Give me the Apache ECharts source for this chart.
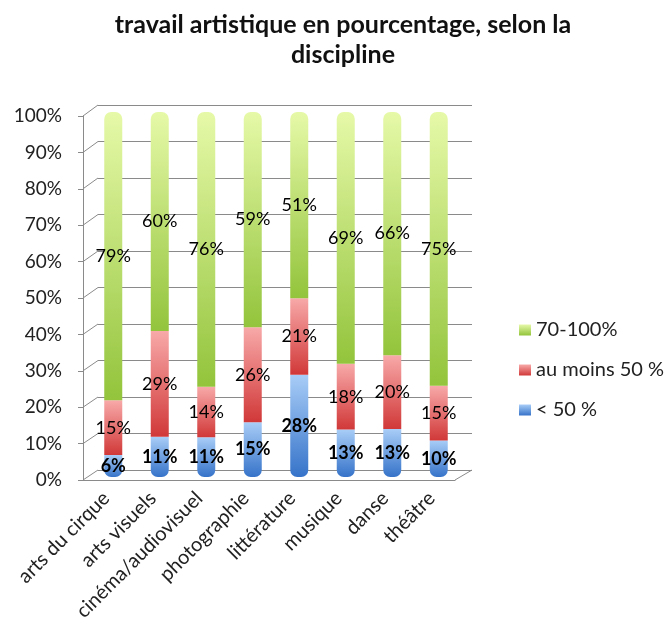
<!DOCTYPE html>
<html>
<head>
<meta charset="utf-8">
<script src="https://cdn.jsdelivr.net/npm/echarts@6/dist/echarts.min.js"></script>
<style>
html, body { margin: 0; background: #fff; }
#chart { width: 666px; height: 638px; }
</style>
</head>
<body>
<div id="chart"></div>
<script>
// données
var categories = ['arts du cirque', 'arts visuels', 'cinéma/audiovisuel', 'photographie', 'littérature', 'musique', 'danse', 'théâtre'];
var below50 = [6, 11, 11, 15, 28, 13, 13, 10];
var atLeast50 = [15, 29, 14, 26, 21, 18, 20, 15];
var from70 = [79, 60, 76, 59, 51, 69, 66, 75];
var seriesNames = ['< 50 %', 'au moins 50 %', '70-100%'];

var FONT = 'Lato';
var GRID_COLOR = '#8a8a8a';

// empilement à 100 % : chaque colonne est ramenée à son total, l'étiquette garde la valeur lue
var totals = categories.map(function (c, i) { return below50[i] + atLeast50[i] + from70[i]; });
function toShare(arr) {
  return arr.map(function (v, i) { return { value: v * 100 / totals[i], raw: v }; });
}

function grad(top, bottom) {
  return new echarts.graphic.LinearGradient(0, 0, 0, 1, [
    { offset: 0, color: top },
    { offset: 1, color: bottom }
  ]);
}

function pct(p) { return p.data.raw + '%'; }

var chart = echarts.init(document.getElementById('chart'));

var option = {
  animation: false,
  textStyle: { fontFamily: FONT },
  title: {
    text: 'travail artistique en pourcentage, selon la\ndiscipline',
    left: 338,
    top: 5,
    textAlign: 'center',
    textStyle: { fontFamily: FONT, fontSize: 25, fontWeight: 'bold', color: '#111', lineHeight: 30 }
  },
  legend: {
    orient: 'vertical',
    left: 514,
    top: 315,
    itemWidth: 12,
    itemHeight: 11,
    itemGap: 20,
    icon: 'rect',
    data: ['70-100%', 'au moins 50 %', '< 50 %'],
    textStyle: { fontFamily: FONT, fontSize: 20, color: '#222' }
  },
  grid: [
    // mur du fond (quadrillage)
    { left: 98, top: 105, width: 374, height: 365 },
    // axes avant
    { left: 83, top: 116, width: 372, height: 364 },
    // barres
    { left: 90, top: 112, width: 372, height: 365 }
  ],
  xAxis: [
    { gridIndex: 0, type: 'category', data: categories, show: false },
    {
      gridIndex: 1, type: 'category', data: categories,
      axisLine: { lineStyle: { color: GRID_COLOR } },
      axisTick: { length: 6, lineStyle: { color: GRID_COLOR } },
      axisLabel: { rotate: 45, fontSize: 20, color: '#222', margin: 15, fontFamily: FONT }
    },
    { gridIndex: 2, type: 'category', data: categories, show: false }
  ],
  yAxis: [
    {
      gridIndex: 0, type: 'value', min: 0, max: 100, interval: 10,
      axisLine: { show: false }, axisTick: { show: false }, axisLabel: { show: false },
      splitLine: { lineStyle: { color: GRID_COLOR, width: 1 } }
    },
    {
      gridIndex: 1, type: 'value', min: 0, max: 100, interval: 10,
      axisLine: { show: true, lineStyle: { color: GRID_COLOR } },
      axisTick: { show: true, length: 5, lineStyle: { color: GRID_COLOR } },
      splitLine: { show: false },
      axisLabel: { formatter: '{value}%', fontSize: 19, color: '#222', margin: 21, fontFamily: FONT }
    },
    { gridIndex: 2, type: 'value', min: 0, max: 100, show: false, splitLine: { show: false } }
  ],
  series: [
    {
      name: seriesNames[0], type: 'bar', stack: 'total', xAxisIndex: 2, yAxisIndex: 2,
      barWidth: 18, data: toShare(below50),
      itemStyle: { color: grad('#a8cdf7', '#3673c9'), borderRadius: [0, 0, 7, 7] },
      label: { show: true, position: 'inside', formatter: pct, fontSize: 18, fontWeight: 'bold', color: '#000', fontFamily: FONT }
    },
    {
      name: seriesNames[1], type: 'bar', stack: 'total', xAxisIndex: 2, yAxisIndex: 2,
      barWidth: 18, data: toShare(atLeast50),
      itemStyle: { color: grad('#f8a9a9', '#d13838') },
      label: { show: true, position: 'inside', formatter: pct, fontSize: 18, color: '#000', fontFamily: FONT }
    },
    {
      name: seriesNames[2], type: 'bar', stack: 'total', xAxisIndex: 2, yAxisIndex: 2,
      barWidth: 18, data: toShare(from70),
      itemStyle: { color: grad('#e6f9a8', '#93c43c'), borderRadius: [7, 7, 0, 0] },
      label: { show: true, position: 'inside', formatter: pct, fontSize: 18, color: '#000', fontFamily: FONT }
    }
  ]
};

chart.setOption(option);

// parois latérales de l'effet 3D : relier les graduations avant à celles du fond
var sideLines = [];
for (var v = 0; v <= 100; v += 10) {
  var front = chart.convertToPixel({ gridIndex: 1 }, [0, v]);
  var back = chart.convertToPixel({ gridIndex: 0 }, [0, v]);
  sideLines.push({
    type: 'line', silent: true,
    shape: { x1: 83, y1: front[1], x2: 98, y2: back[1] },
    style: { stroke: GRID_COLOR, lineWidth: 1 }
  });
}
var frontBottom = chart.convertToPixel({ gridIndex: 1 }, [0, 0])[1];
var backBottom = chart.convertToPixel({ gridIndex: 0 }, [0, 0])[1];
sideLines.push({
  type: 'line', silent: true,
  shape: { x1: 455, y1: frontBottom, x2: 472, y2: backBottom },
  style: { stroke: GRID_COLOR, lineWidth: 1 }
});
chart.setOption({ graphic: sideLines });
</script>
</body>
</html>
